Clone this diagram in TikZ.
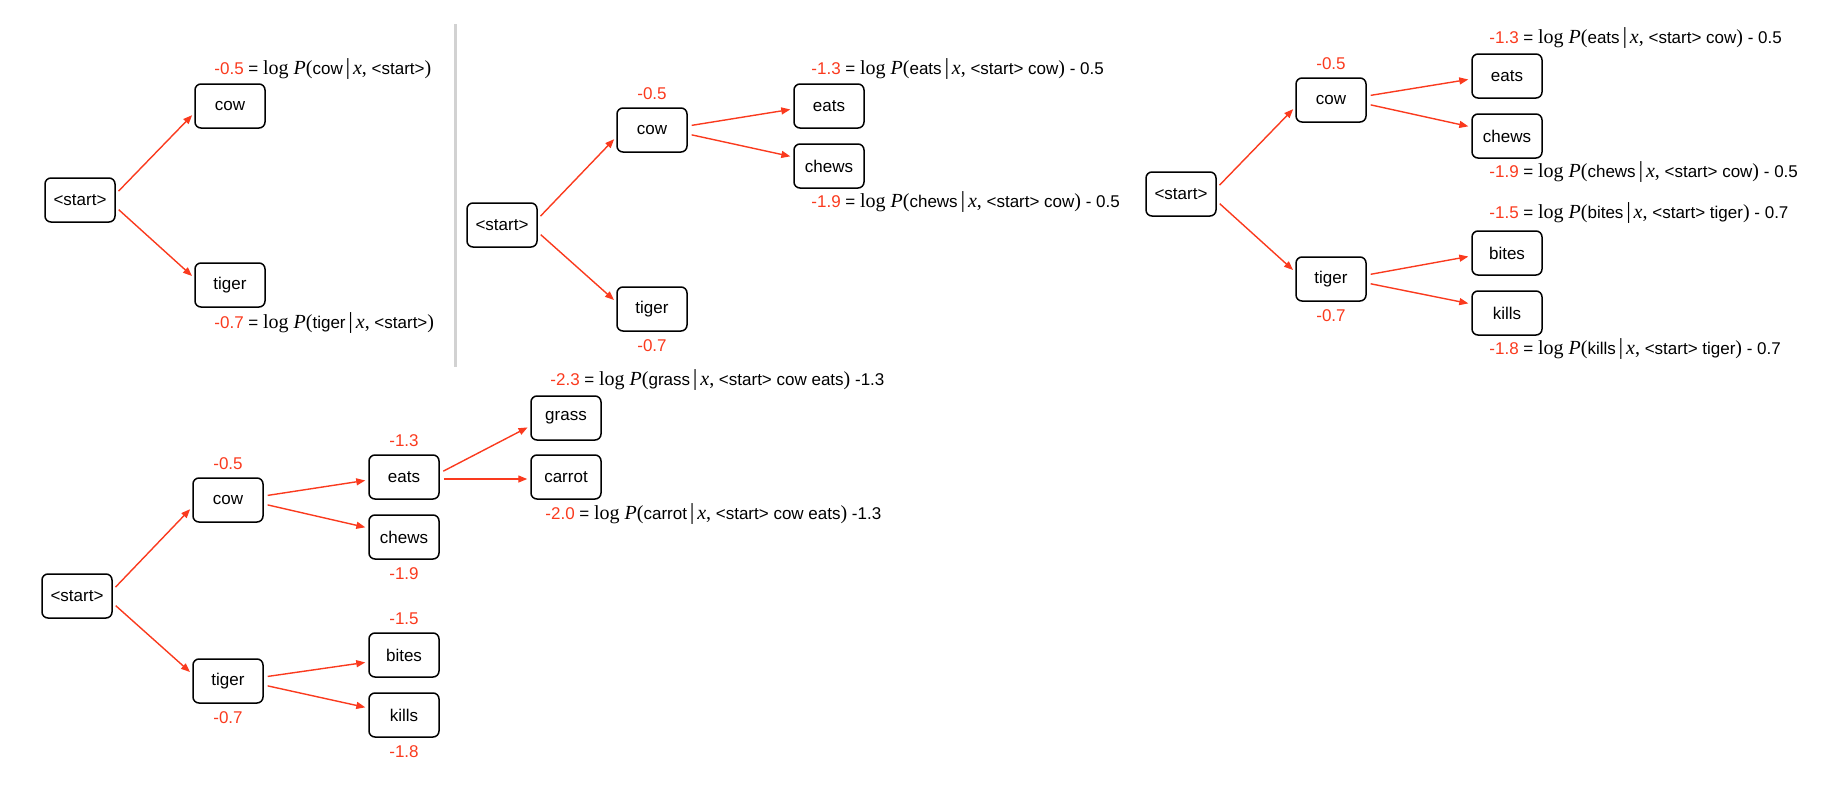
\documentclass[tikz,border=0pt]{standalone}
\usepackage{fontspec}
\setmainfont{Liberation Sans}
\newfontfamily\tms{Liberation Serif}
\usetikzlibrary{arrows.meta,positioning}
\definecolor{myred}{RGB}{250,58,30}
\definecolor{mygray}{RGB}{210,210,210}
\newcommand{\sbig}{\tms\fontsize{20}{22}\selectfont}
\newcommand{\logp}[3]{{\color{myred}#1} = {\sbig log \textit{P}(}#2\,{\tms\fontsize{23}{24}\selectfont|}\,{\sbig\textit{x},} #3{\sbig)}}
\begin{document}
\begin{tikzpicture}[x=1pt,y=-1pt]
\tikzstyle{mybox} = [draw, rounded corners=6pt, line width=1.5pt, minimum width=70pt, minimum height=44pt, inner sep=0pt, font=\fontsize{17}{20}\selectfont] % word box
\tikzstyle{myarrow} = [draw=myred, line width=1.4pt, -{Triangle[length=9pt,width=7pt]}, shorten <=4pt, shorten >=3pt] % red arrow
\tikzstyle{myscore} = [text=myred, inner sep=0pt, text height=12pt, text depth=0pt, font=\fontsize{17}{20}\selectfont] % score
\tikzstyle{mylabel} = [anchor=west, inner sep=0pt, text height=13pt, text depth=4pt, font=\fontsize{17}{20}\selectfont] % formula
\useasboundingbox (0,0) rectangle (1826,790);
%
% first tree
\node[mybox] (start1) at (80,200) {<start>};
\node[mybox] (cow1) at (230,106) {cow};
\node[mybox] (tiger1) at (230,285) {tiger};
\draw[myarrow] ([yshift=6pt]start1.east) -- ([yshift=-7pt]cow1.west);
\draw[myarrow] ([yshift=-7pt]start1.east) -- ([yshift=7pt]tiger1.west);
\node[mylabel] (cow1p) at ([xshift=20pt,yshift=13pt]cow1.north west) {\logp{-0.5}{cow}{<start>}};
\node[mylabel] (tiger1p) at ([xshift=20pt,yshift=-16pt]tiger1.south west) {\logp{-0.7}{tiger}{<start>}};
%
\draw[mygray, line width=3pt] (455,24) -- (455,367); % разделитель
%
% second tree
\node[mybox] (start2) at (502,225) {<start>};
\node[mybox] (cow2) at (652,130) {cow};
\node[mybox] (tiger2) at (652,309) {tiger};
\node[mybox] (eats2) at (829,106) {eats};
\node[mybox] (chews2) at (829,166) {chews};
\draw[myarrow] ([yshift=6pt]start2.east) -- ([yshift=-7pt]cow2.west);
\draw[myarrow] ([yshift=-7pt]start2.east) -- ([yshift=7pt]tiger2.west);
\draw[myarrow] ([yshift=4pt]cow2.east) -- ([yshift=-3pt]eats2.west);
\draw[myarrow] ([yshift=-4pt]cow2.east) -- ([yshift=9pt]chews2.west);
\node[myscore, above=8pt of cow2] (cow2s) {-0.5};
\node[myscore, below=8pt of tiger2] (tiger2s) {-0.7};
\node[mylabel] (eats2p) at ([xshift=18pt,yshift=13pt]eats2.north west) {\logp{-1.3}{eats}{<start> cow} - 0.5};
\node[mylabel] (chews2p) at ([xshift=18pt,yshift=-14pt]chews2.south west) {\logp{-1.9}{chews}{<start> cow} - 0.5};
%
% third tree
\node[mybox] (start3) at (1181,194) {<start>};
\node[mybox] (cow3) at (1331,100) {cow};
\node[mybox] (tiger3) at (1331,279) {tiger};
\node[mybox] (eats3) at (1507,76) {eats};
\node[mybox] (chews3) at (1507,136) {chews};
\node[mybox] (bites3) at (1507,253) {bites};
\node[mybox] (kills3) at (1507,313) {kills};
\draw[myarrow] ([yshift=6pt]start3.east) -- ([yshift=-7pt]cow3.west);
\draw[myarrow] ([yshift=-7pt]start3.east) -- ([yshift=7pt]tiger3.west);
\draw[myarrow] ([yshift=4pt]cow3.east) -- ([yshift=-3pt]eats3.west);
\draw[myarrow] ([yshift=-4pt]cow3.east) -- ([yshift=9pt]chews3.west);
\draw[myarrow] ([yshift=4pt]tiger3.east) -- ([yshift=-3pt]bites3.west);
\draw[myarrow] ([yshift=-4pt]tiger3.east) -- ([yshift=9pt]kills3.west);
\node[myscore, above=8pt of cow3] (cow3s) {-0.5};
\node[myscore, below=8pt of tiger3] (tiger3s) {-0.7};
\node[mylabel] (eats3p) at ([xshift=18pt,yshift=14pt]eats3.north west) {\logp{-1.3}{eats}{<start> cow} - 0.5};
\node[mylabel] (chews3p) at ([xshift=18pt,yshift=-14pt]chews3.south west) {\logp{-1.9}{chews}{<start> cow} - 0.5};
\node[mylabel] (bites3p) at ([xshift=18pt,yshift=16pt]bites3.north west) {\logp{-1.5}{bites}{<start> tiger} - 0.7};
\node[mylabel] (kills3p) at ([xshift=18pt,yshift=-14pt]kills3.south west) {\logp{-1.8}{kills}{<start> tiger} - 0.7};
%
% fourth tree (внизу)
\node[mybox] (start4) at (77,596) {<start>};
\node[mybox] (cow4) at (228,500) {cow};
\node[mybox] (tiger4) at (228,681) {tiger};
\node[mybox] (eats4) at (404,477) {eats};
\node[mybox] (chews4) at (404,537) {chews};
\node[mybox] (bites4) at (404,655) {bites};
\node[mybox] (kills4) at (404,715) {kills};
\node[mybox] (grass4) at (566,418) {grass};
\node[mybox] (carrot4) at (566,477) {carrot};
\draw[myarrow] ([yshift=6pt]start4.east) -- ([yshift=-7pt]cow4.west);
\draw[myarrow] ([yshift=-7pt]start4.east) -- ([yshift=7pt]tiger4.west);
\draw[myarrow] ([yshift=4pt]cow4.east) -- ([yshift=-3pt]eats4.west);
\draw[myarrow] ([yshift=-4pt]cow4.east) -- ([yshift=9pt]chews4.west);
\draw[myarrow] ([yshift=4pt]tiger4.east) -- ([yshift=-7pt]bites4.west);
\draw[myarrow] ([yshift=-4pt]tiger4.east) -- ([yshift=7pt]kills4.west);
\draw[myarrow] ([yshift=4pt]eats4.east) -- ([yshift=-8pt]grass4.west);
\draw[myarrow] ([yshift=-2pt]eats4.east) -- ([yshift=-2pt]carrot4.west);
\node[myscore, above=8pt of cow4] (cow4s) {-0.5};
\node[myscore, below=8pt of tiger4] (tiger4s) {-0.7};
\node[myscore, above=8pt of eats4] (eats4s) {-1.3};
\node[myscore, below=8pt of chews4] (chews4s) {-1.9};
\node[myscore, above=8pt of bites4] (bites4s) {-1.5};
\node[myscore, below=8pt of kills4] (kills4s) {-1.8};
\node[mylabel] (grass4p) at ([xshift=20pt,yshift=14pt]grass4.north west) {\logp{-2.3}{grass}{<start> cow eats} -1.3};
\node[mylabel] (carrot4p) at ([xshift=15pt,yshift=-15pt]carrot4.south west) {\logp{-2.0}{carrot}{<start> cow eats} -1.3};
\end{tikzpicture}
\end{document}
